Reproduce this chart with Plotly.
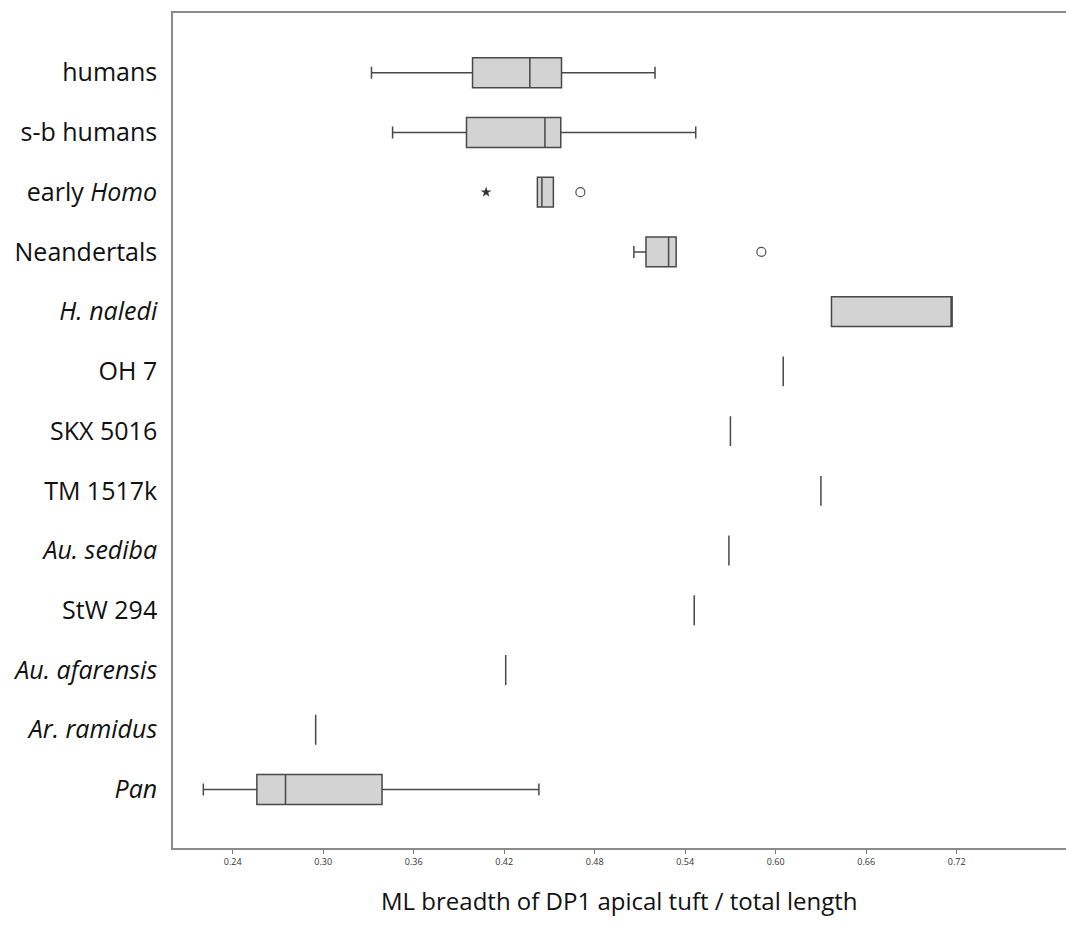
import plotly.graph_objects as go

# ---- data ----
groups = ["humans", "s-b humans", "early <i>Homo</i>", "Neandertals", "<i>H. naledi</i>",
          "OH 7", "SKX 5016", "TM 1517k", "<i>Au. sediba</i>", "StW 294",
          "<i>Au. afarensis</i>", "<i>Ar. ramidus</i>", "<i>Pan</i>"]
lower_whisker = [0.332, 0.346, 0.442, 0.506, 0.637, 0.605, 0.570, 0.630, 0.569, 0.546, 0.421, 0.295, 0.2205]
q1_vals       = [0.399, 0.395, 0.442, 0.514, 0.637, 0.605, 0.570, 0.630, 0.569, 0.546, 0.421, 0.295, 0.256]
median_vals   = [0.437, 0.447, 0.445, 0.529, 0.717, 0.605, 0.570, 0.630, 0.569, 0.546, 0.421, 0.295, 0.275]
q3_vals       = [0.458, 0.4575, 0.4526, 0.534, 0.717, 0.605, 0.570, 0.630, 0.569, 0.546, 0.421, 0.295, 0.339]
upper_whisker = [0.520, 0.547, 0.4526, 0.534, 0.717, 0.605, 0.570, 0.630, 0.569, 0.546, 0.421, 0.295, 0.443]

# outliers: (group index, value)
star_group = [2]
star_value = [0.408]
circle_group = [2, 3]
circle_value = [0.4705, 0.5905]

x_ticks = [0.24, 0.30, 0.36, 0.42, 0.48, 0.54, 0.60, 0.66, 0.72]
x_title = "ML breadth of DP1 apical tuft / total length"

pos = list(range(len(groups)))

fig = go.Figure()
fig.add_trace(go.Box(
    orientation="h",
    y=pos,
    q1=q1_vals, median=median_vals, q3=q3_vals,
    lowerfence=lower_whisker, upperfence=upper_whisker,
    width=0.5,
    whiskerwidth=0.4,
    fillcolor="#d3d3d3",
    line=dict(color="#484848", width=1.5),
    boxpoints=False,
    showlegend=False,
    hoverinfo="skip",
))
fig.add_trace(go.Scatter(
    x=star_value, y=star_group, mode="markers",
    marker=dict(symbol="star", size=8, color="#333333"),
    showlegend=False, hoverinfo="skip",
))
fig.add_trace(go.Scatter(
    x=circle_value, y=circle_group, mode="markers",
    marker=dict(symbol="circle-open", size=9, color="#505050", line=dict(width=1.2)),
    showlegend=False, hoverinfo="skip",
))

fig.update_layout(
    width=1066, height=925,
    margin=dict(l=173, r=0, t=13, b=77),
    paper_bgcolor="white", plot_bgcolor="white",
    font=dict(family="Open Sans", color="#111111"),
    xaxis=dict(
        range=[0.2004, 0.7925],
        tickvals=x_ticks,
        ticktext=[f"{v:.2f}" for v in x_ticks],
        ticks="outside", ticklen=4, tickcolor="#777777", tickwidth=1,
        tickfont=dict(size=9, color="#333333"),
        showline=True, linecolor="#8a8a8a", linewidth=1.6, mirror=True,
        showgrid=False, zeroline=False,
    ),
    yaxis=dict(
        range=[12.98, -1.0],
        tickvals=pos, ticktext=groups,
        ticks="", ticklabelstandoff=9,
        tickfont=dict(size=25, color="#111111"),
        showline=True, linecolor="#8a8a8a", linewidth=1.6,
        showgrid=False, zeroline=False,
    ),
)
fig.add_annotation(
    text=x_title, xref="paper", yref="paper", x=0.5, y=-0.0623,
    xanchor="center", yanchor="middle", showarrow=False,
    font=dict(size=24, color="#111111", family="Open Sans"),
)

fig.write_html(
    "out.html",
    config={"displayModeBar": False},
    post_script="document.body.style.margin='0';document.body.style.overflow='hidden';",
)
